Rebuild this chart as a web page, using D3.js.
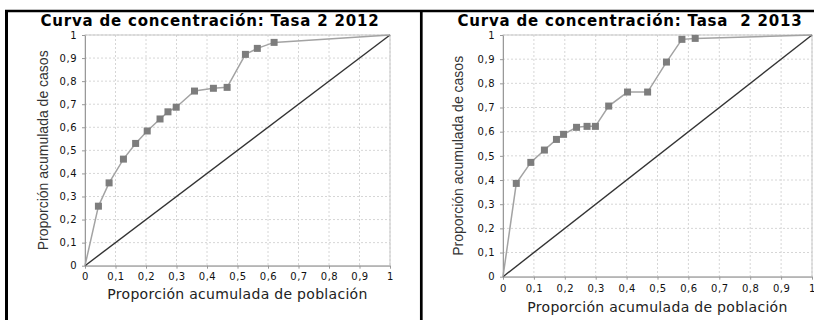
<!DOCTYPE html>
<html>
<head>
<meta charset="utf-8">
<script src="https://cdn.jsdelivr.net/npm/d3@7"></script>
<style>
  body { margin: 0; background: #fff; }
  svg { display: block; }
  text { white-space: pre; }
</style>
</head>
<body>
<svg width="814" height="320"></svg>
<script>
// cumulative proportions
const pob2012 = [0, 0.044, 0.079, 0.126, 0.166, 0.204, 0.246, 0.272, 0.299, 0.359, 0.421, 0.466, 0.526, 0.565, 0.620, 1]
const casos2012 = [0, 0.258, 0.359, 0.462, 0.530, 0.584, 0.636, 0.667, 0.687, 0.757, 0.769, 0.773, 0.916, 0.942, 0.968, 1]

const pob2013 = [0, 0.043, 0.090, 0.134, 0.173, 0.196, 0.238, 0.272, 0.299, 0.342, 0.403, 0.468, 0.529, 0.579, 0.622, 1]
const casos2013 = [0, 0.386, 0.473, 0.524, 0.568, 0.589, 0.618, 0.622, 0.622, 0.706, 0.764, 0.764, 0.888, 0.982, 0.986, 1]

const tickVals = [0, 0.1, 0.2, 0.3, 0.4, 0.5, 0.6, 0.7, 0.8, 0.9, 1]
const titles = ["Curva de concentración: Tasa 2 2012", "Curva de concentración: Tasa  2 2013"]
const xTitle = "Proporción acumulada de población"
const yTitle = "Proporción acumulada de casos"

const es = d3.formatLocale({decimal: ",", thousands: ".", grouping: [3], currency: ["", "€"]})
const fmt = es.format(".1~f")

const svg = d3.select("svg")

// panel frame lines
svg.append("line").attr("x1", 5).attr("x2", 814).attr("y1", 11).attr("y2", 11)
   .attr("stroke", "#000").attr("stroke-width", 2.5)
svg.append("line").attr("x1", 6.5).attr("x2", 6.5).attr("y1", 10).attr("y2", 320)
   .attr("stroke", "#000").attr("stroke-width", 3)
svg.append("line").attr("x1", 421.3).attr("x2", 421.3).attr("y1", 10).attr("y2", 320)
   .attr("stroke", "#000").attr("stroke-width", 2.7)

const panels = [
  {xs: pob2012, ys: casos2012, title: titles[0], left: 85, right: 390, top: 35, bottom: 265.7,
   titleX: 210, yTitleX: 47.5, xPad: 4, xTitleY: 299},
  {xs: pob2013, ys: casos2013, title: titles[1], left: 503, right: 812, top: 35, bottom: 276.7,
   titleX: 630, yTitleX: 462.5, xPad: 5, xTitleY: 312}
]

panels.forEach(p => {
  const x = d3.scaleLinear().domain([0, 1]).range([p.left, p.right])
  const y = d3.scaleLinear().domain([0, 1]).range([p.bottom, p.top])
  const g = svg.append("g")

  // grid
  g.selectAll(".vgrid").data(tickVals.slice(1)).enter().append("line")
    .attr("x1", d => x(d)).attr("x2", d => x(d)).attr("y1", p.top).attr("y2", p.bottom)
    .attr("stroke", "#d6d6d6").attr("stroke-dasharray", "2,2")
  g.selectAll(".hgrid").data(tickVals.slice(1)).enter().append("line")
    .attr("x1", p.left).attr("x2", p.right).attr("y1", d => y(d)).attr("y2", d => y(d))
    .attr("stroke", "#d6d6d6").attr("stroke-dasharray", "2,2")

  // plot outline
  g.append("rect").attr("x", p.left).attr("y", p.top)
    .attr("width", p.right - p.left).attr("height", p.bottom - p.top)
    .attr("fill", "none").attr("stroke", "#c8c8c8")

  const xAxis = g.append("g").attr("transform", `translate(0,${p.bottom})`)
    .call(d3.axisBottom(x).tickValues(tickVals).tickFormat(fmt).tickSize(3).tickPadding(p.xPad).tickSizeOuter(0))
  const yAxis = g.append("g").attr("transform", `translate(${p.left},0)`)
    .call(d3.axisLeft(y).tickValues(tickVals).tickFormat(fmt).tickSize(3).tickPadding(5).tickSizeOuter(0))
  ;[xAxis, yAxis].forEach(a => {
    a.select(".domain").attr("stroke", "#999")
    a.selectAll(".tick line").attr("stroke", "#999")
    a.selectAll("text").attr("fill", "#111").style("font-family", "DejaVu Sans")
      .style("font-size", "10px").style("letter-spacing", "0.5px")
  })

  // equality diagonal
  g.append("line").attr("x1", x(0)).attr("y1", y(0)).attr("x2", x(1)).attr("y2", y(1))
    .attr("stroke", "#333").attr("stroke-width", 1.4)

  const pts = p.xs.map((v, i) => [v, p.ys[i]])
  g.append("path").datum(pts)
    .attr("d", d3.line().x(d => x(d[0])).y(d => y(d[1])))
    .attr("fill", "none").attr("stroke", "#a3a3a3").attr("stroke-width", 1.5)

  g.selectAll(".pt").data(pts.slice(1, -1)).enter().append("rect")
    .attr("x", d => x(d[0]) - 3.5).attr("y", d => y(d[1]) - 3.5)
    .attr("width", 7).attr("height", 7).attr("fill", "#7d7d7d")

  svg.append("text").attr("x", p.titleX).attr("y", 25.5).attr("text-anchor", "middle")
    .style("font-family", "DejaVu Sans").style("font-weight", "bold").style("font-size", "15px")
    .style("letter-spacing", "0.8px").text(p.title)

  svg.append("text").attr("x", (p.left + p.right) / 2).attr("y", p.xTitleY).attr("text-anchor", "middle")
    .style("font-family", "DejaVu Sans").style("font-size", "14px").style("letter-spacing", "0.3px")
    .attr("fill", "#222").text(xTitle)

  svg.append("text")
    .attr("transform", `translate(${p.yTitleX},${(p.top + p.bottom) / 2}) rotate(-90)`)
    .attr("text-anchor", "middle")
    .style("font-family", "Liberation Sans").style("font-size", "14px")
    .attr("fill", "#333").text(yTitle)
})
</script>
</body>
</html>
